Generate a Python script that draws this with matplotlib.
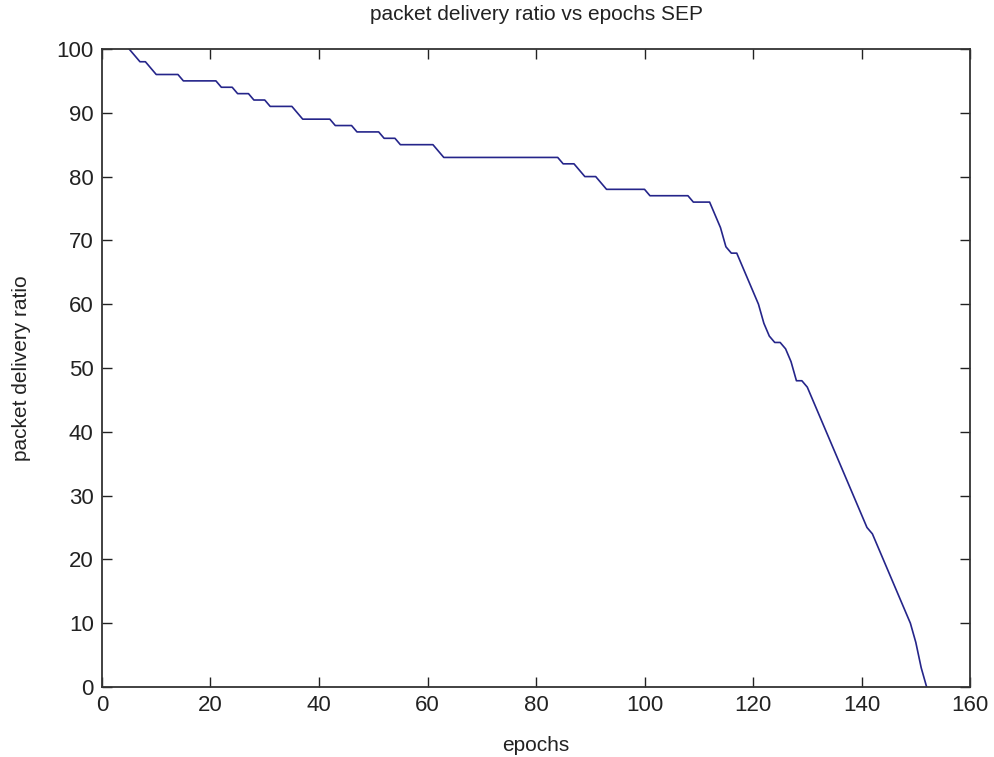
import matplotlib
matplotlib.use("Agg")
import matplotlib.pyplot as plt

# epochs and packet delivery ratio
epochs = list(range(5, 153))
pdr = [
    100, 99, 98, 98, 97, 96, 96, 96, 96, 96,          # 5-14
    95, 95, 95, 95, 95, 95, 95, 94, 94, 94,           # 15-24
    93, 93, 93, 92, 92, 92, 91, 91, 91, 91,           # 25-34
    91, 90, 89, 89, 89, 89, 89, 89, 88, 88,           # 35-44
    88, 88, 87, 87, 87, 87, 87, 86, 86, 86,           # 45-54
    85, 85, 85, 85, 85, 85, 85, 84, 83, 83,           # 55-64
    83, 83, 83, 83, 83, 83, 83, 83, 83, 83,           # 65-74
    83, 83, 83, 83, 83, 83, 83, 83, 83, 83,           # 75-84
    82, 82, 82, 81, 80, 80, 80, 79, 78, 78,           # 85-94
    78, 78, 78, 78, 78, 78, 77, 77, 77, 77,           # 95-104
    77, 77, 77, 77, 76, 76, 76, 76, 74, 72,           # 105-114
    69, 68, 68, 66, 64, 62, 60, 57, 55, 54,           # 115-124
    54, 53, 51, 48, 48, 47, 45, 43, 41, 39,           # 125-134
    37, 35, 33, 31, 29, 27, 25, 24, 22, 20,           # 135-144
    18, 16, 14, 12, 10, 7, 3, 0,                      # 145-152
]
x_ticks = [0, 20, 40, 60, 80, 100, 120, 140, 160]
y_ticks = [0, 10, 20, 30, 40, 50, 60, 70, 80, 90, 100]

plt.rcParams['font.family'] = ['Liberation Sans', 'DejaVu Sans']

fig = plt.figure(figsize=(9.94, 7.57), dpi=100)
ax = fig.add_axes([0.1026, 0.0925, 0.8733, 0.8428])

ax.plot(epochs, pdr, color='#25258a', linewidth=1.2)

ax.set_xlim(0, 160)
ax.set_ylim(0, 100)
ax.set_xticks(x_ticks)
ax.set_yticks(y_ticks)
ax.tick_params(direction='in', length=7, width=1, top=True, right=True,
               labelsize=16, colors='#222222', pad=6)
for s in ax.spines.values():
    s.set_linewidth(1.3)
    s.set_color('#333333')

ax.set_xlabel('epochs', fontsize=15, color='#222222', labelpad=14)
ax.set_ylabel('packet delivery ratio', fontsize=15, color='#222222', labelpad=18)
ax.set_title('packet delivery ratio vs epochs SEP', fontsize=15, color='#222222', pad=21)

fig.savefig('out.png', dpi=100)
